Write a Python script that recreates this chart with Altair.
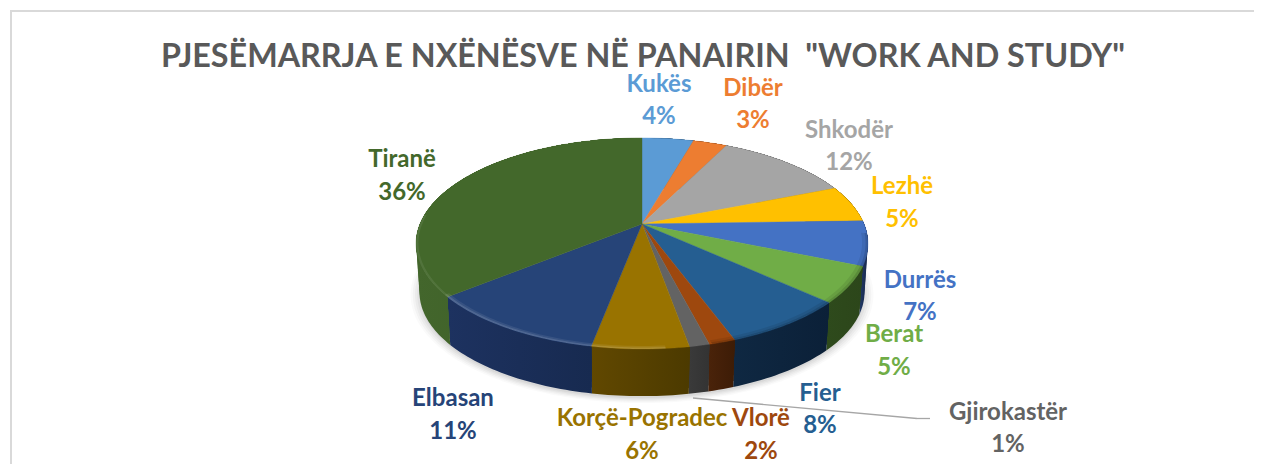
import math
import altair as alt

# ---- values ----
NAMES = ["Kukës", "Dibër", "Shkodër", "Lezhë", "Durrës", "Berat", "Fier", "Vlorë",
         "Gjirokastër", "Korçë-Pogradec", "Elbasan", "Tiranë"]
SHARES = [4.4, 2.9, 11.6, 5.6, 6.8, 5.5, 7.6, 1.6, 1.2, 5.8, 11.1, 35.9]
PERCENT_LABELS = ["4%", "3%", "12%", "5%", "7%", "5%", "8%", "2%", "1%", "6%", "11%", "36%"]

TOP_COLORS = ["#5b9bd5", "#ed7d31", "#a5a5a5", "#ffc000", "#4472c4", "#70ad47",
              "#255e91", "#9e480e", "#636363", "#997300", "#264478", "#43682b"]
WALL_LEFT = ["#2f5070", "#7a3f18", "#555555", "#806000", "#223a66", "#2e4a1c",
             "#0f2842", "#4a230a", "#3a3a3a", "#614800", "#1d3260", "#43662c"]
WALL_RIGHT = ["#2f5070", "#7a3f18", "#555555", "#806000", "#16264a", "#2c461a",
              "#0b2038", "#3d1c06", "#333333", "#4c3a00", "#172a50", "#395a24"]
TEXT_COLORS = TOP_COLORS

# ---- layout (page pixels, minus the 8px page margin below) ----
M = 8
CX, CY = 642.0 - M, 224.0 - M
A, B, K = 222.0, 101.9, 0.1848
DEPTH, SHRINK = 49.0, 0.985
LABEL_XY = [(659, 85, 117), (753, 89, 121), (849, 131, 163), (902, 187, 220),
            (920, 281, 313), (894, 335, 368), (820, 394, 426), (761, 419, 452),
            (1008, 413, 445), (642, 419, 452), (453, 399, 432), (402, 160, 193)]
WIDTH, HEIGHT = 1246, 456
FONT = "Lato"
WALL_SLICES = 8


def project(theta, r=1.0, depth=0.0):
    u, v = r * math.sin(theta), r * math.cos(theta)
    w = 1 + K * v
    s = 1.0 - (1.0 - SHRINK) * depth
    return [CX + s * A * u / w, CY + DEPTH * depth - s * B * v / w]


def steps(a0, a1):
    n = max(2, int(abs(a1 - a0) / 0.02))
    return [a0 + (a1 - a0) * i / n for i in range(n + 1)]


def feature(ring):
    return {"type": "Feature", "properties": {},
            "geometry": {"type": "Polygon", "coordinates": [ring + [ring[0]]]}}


def geo(ring_list, **mark):
    data = alt.InlineData(values={"type": "FeatureCollection",
                                  "features": [feature(r) for r in ring_list]},
                          format=alt.DataFormat(property="features", type="json"))
    return alt.Chart(data).mark_geoshape(**mark).project(type="identity", scale=1, translate=[0, 0])


total = sum(SHARES)
edges = [0.0]
for s in SHARES:
    edges.append(edges[-1] + s / total * 2 * math.pi)

layers = []

# soft shadow under the disc
for grow, op in [(1.04, 0.04), (1.03, 0.05), (1.02, 0.06), (1.01, 0.08), (1.0, 0.1)]:
    ring = [[CX + (p[0] - CX) * grow, CY + DEPTH + (p[1] - CY - DEPTH) * grow + 2]
            for p in (project(t, 1.0, 1.0) for t in steps(0, 2 * math.pi))]
    layers.append(geo([ring], fill="#7f7f7f", fillOpacity=op, strokeWidth=0))

# side wall: overlapping sweeps, shallow first, so the outline is tangent at the sides
for i in range(len(SHARES)):
    ts = steps(edges[i], edges[i + 1])
    fill = alt.LinearGradient(gradient="linear", x1=0, x2=1, y1=0, y2=0,
                              stops=[alt.GradientStop(color=WALL_LEFT[i], offset=0),
                                     alt.GradientStop(color=WALL_RIGHT[i], offset=1)])
    for j in range(1, WALL_SLICES + 1):
        d1 = j / WALL_SLICES
        ring = [project(t) for t in ts] + [project(t, 1.0, d1) for t in reversed(ts)]
        layers.append(geo([ring], fill=fill, strokeWidth=0))

# top face
for i in range(len(SHARES)):
    ts = steps(edges[i], edges[i + 1])
    ring = [[CX, CY]] + [project(t) for t in ts]
    layers.append(geo([ring], fill=TOP_COLORS[i], stroke=TOP_COLORS[i], strokeWidth=0.4))

# bevel along the rim: light on the left front, dark on the right front
for a0, a1, r0, op in [(175, 232, 0.99, 0.12), (175, 232, 0.98, 0.08), (232, 275, 0.99, 0.08)]:
    ts = steps(math.radians(a0), math.radians(a1))
    ring = [project(t, 1.0) for t in ts] + [project(t, r0) for t in reversed(ts)]
    layers.append(geo([ring], fill="#ffffff", fillOpacity=op, strokeWidth=0))
for r0, op in [(0.99, 0.12), (0.975, 0.08)]:
    ts = steps(math.radians(95), math.radians(165))
    ring = [project(t, 1.0) for t in ts] + [project(t, r0) for t in reversed(ts)]
    layers.append(geo([ring], fill="#000000", fillOpacity=op, strokeWidth=0))

# frame
layers.append(alt.Chart(alt.Data(values=[{}])).mark_rule(color="#d9d9d9", strokeWidth=2).encode(
    x=alt.value(3), x2=alt.value(WIDTH), y=alt.value(3)))
layers.append(alt.Chart(alt.Data(values=[{}])).mark_rule(color="#d9d9d9", strokeWidth=2).encode(
    x=alt.value(3), y=alt.value(2), y2=alt.value(HEIGHT)))

# leader line for the smallest slice
for (x0, y0, x1, y1) in [(693, 398, 917, 418.5), (917, 418.5, 930, 418.5)]:
    layers.append(alt.Chart(alt.Data(values=[{}])).mark_rule(color="#a6a6a6", strokeWidth=1.3).encode(
        x=alt.value(x0 - M), y=alt.value(y0 - M), x2=alt.value(x1 - M), y2=alt.value(y1 - M)))

# labels
for name, pct, col, (lx, ly1, ly2) in zip(NAMES, PERCENT_LABELS, TEXT_COLORS, LABEL_XY):
    for txt, ly in ((name, ly1), (pct, ly2)):
        layers.append(alt.Chart(alt.Data(values=[{}])).mark_text(
            font=FONT, fontWeight="bold", fontSize=24, color=col, align="center", baseline="middle"
        ).encode(x=alt.value(lx - M), y=alt.value(ly - M), text=alt.value(txt)))

# title
layers.append(alt.Chart(alt.Data(values=[{}])).mark_text(
    font=FONT, fontWeight="bold", fontSize=32.3, color="#595959", align="center", baseline="middle"
).encode(x=alt.value(643 - M), y=alt.value(57 - M),
         text=alt.value('PJESËMARRJA E NXËNËSVE NË PANAIRIN \u00a0"WORK AND STUDY"')))

chart = alt.layer(*layers).properties(
    width=WIDTH, height=HEIGHT, padding=0, autosize=alt.AutoSizeParams(type="none")
).configure_view(stroke=None)

chart.save("out.html", embed_options={"renderer": "svg", "actions": False})
